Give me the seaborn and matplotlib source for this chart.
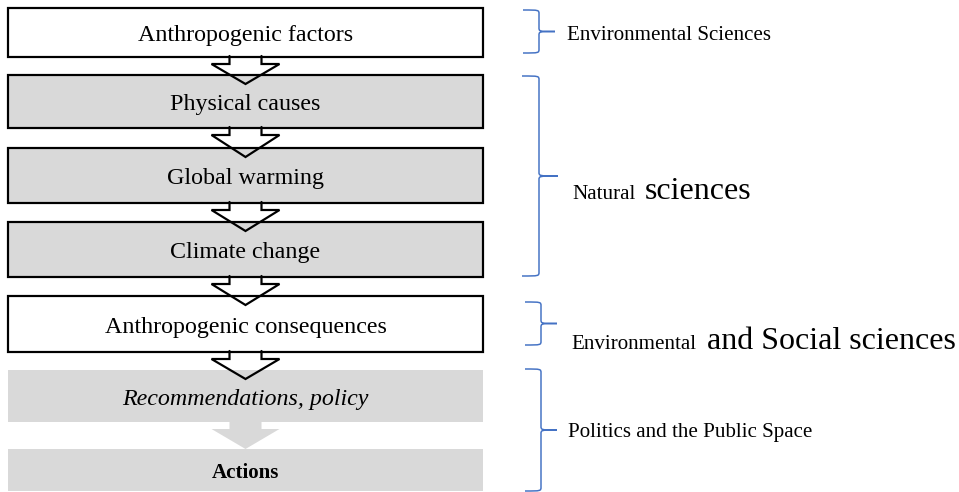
import numpy as np
import matplotlib
matplotlib.use("Agg")
import matplotlib.pyplot as plt
import seaborn as sns
from matplotlib.patches import Rectangle, Polygon, PathPatch
from matplotlib.path import Path

# ==========================================
# Data: flow boxes and discipline brackets
# ==========================================
box_labels = ["Anthropogenic factors", "Physical causes", "Global warming",
              "Climate change", "Anthropogenic consequences",
              "Recommendations, policy", "Actions"]
box_kind = ["white", "grey", "grey", "grey", "white", "soft", "soft"]
box_style = ["normal", "normal", "normal", "normal", "normal", "italic", "bold"]

group_labels = ["Environmental Sciences", "Natural sciences",
                "Environmental and Social sciences", "Politics and the Public Space"]

# layout (pixel coordinates, y downwards)
box_x0, box_x1 = 8, 483
box_top = [8, 75, 148, 222, 296, 370, 449]
box_bot = [57, 128, 203, 277, 352, 422, 491]

brace_top = [10, 76, 302, 369]
brace_bot = [53, 276, 345, 491]
brace_x_end = [523, 522, 525, 525]
brace_x_spine = [539, 539, 541, 541]
brace_x_tip = [555, 558, 557, 557]

GREY = "#d9d9d9"
BLUE = "#4472c4"
W, H = 959, 492
PX = 72 / 100  # px -> pt at dpi 100

sns.set_theme(style="white")
plt.rcParams['font.family'] = ['Liberation Serif', 'DejaVu Serif']
plt.rcParams['text.color'] = 'black'

fig = plt.figure(figsize=(W / 100, H / 100), dpi=100)
ax = fig.add_axes([0, 0, 1, 1])
ax.set_xlim(0, W)
ax.set_ylim(H, 0)
ax.axis('off')

cx = (box_x0 + box_x1) / 2

# --- boxes ---
for lab, kind, style, t, b in zip(box_labels, box_kind, box_style, box_top, box_bot):
    if kind == "soft":
        ax.add_patch(Rectangle((box_x0, t), box_x1 - box_x0, b - t,
                               facecolor=GREY, edgecolor='none', zorder=1))
    else:
        ax.add_patch(Rectangle((box_x0, t), box_x1 - box_x0, b - t,
                               facecolor='white' if kind == "white" else GREY,
                               edgecolor='black', linewidth=2.2 * PX, zorder=1))
    size = 21 if style == "bold" else 24
    ax.text(cx, (t + b) / 2 + size * 0.37, lab, ha='center', va='baseline',
            fontsize=size * PX, fontstyle='italic' if style == "italic" else 'normal',
            fontweight='bold' if style == "bold" else 'normal', color='black', zorder=5)

# --- arrows between boxes ---
shaft, head = 16, 34
for i in range(len(box_labels) - 1):
    top = box_bot[i] - 1
    nxt = box_top[i + 1]
    tip = nxt if box_kind[i] == "soft" else nxt + 9
    hy = top + 8
    pts = [(cx - shaft, top), (cx - shaft, hy), (cx - head, hy), (cx, tip),
           (cx + head, hy), (cx + shaft, hy), (cx + shaft, top)]
    if box_kind[i] == "soft":
        ax.add_patch(Polygon(pts, closed=True, facecolor=GREY, edgecolor='none', zorder=2))
    else:
        xs, ys = zip(*pts)
        ax.plot(xs, ys, color='black', linewidth=2.2 * PX, solid_joinstyle='miter', zorder=3)

# --- braces ---
for t, b, xe, xs_, xt in zip(brace_top, brace_bot, brace_x_end, brace_x_spine, brace_x_tip):
    m = (t + b) / 2
    r = 4
    verts = [(xe, t), (xs_, t), (xs_, t), (xs_, t + r),
             (xs_, m - r),
             (xs_, m), (xs_, m), (xt, m),
             (xs_, m), (xs_, m), (xs_, m + r),
             (xs_, b - r),
             (xs_, b), (xs_, b), (xe, b)]
    codes = [Path.MOVETO, Path.CURVE4, Path.CURVE4, Path.CURVE4,
             Path.LINETO,
             Path.CURVE4, Path.CURVE4, Path.CURVE4,
             Path.CURVE4, Path.CURVE4, Path.CURVE4,
             Path.LINETO,
             Path.CURVE4, Path.CURVE4, Path.CURVE4]
    ax.add_patch(PathPatch(Path(verts, codes), facecolor='none', edgecolor=BLUE,
                           linewidth=1.5 * PX, zorder=3))

# --- bracket labels (mixed sizes as in original) ---
small, big = 21 * PX, 32 * PX
ax.text(567, 40, group_labels[0], fontsize=small, va='baseline', ha='left', color='black')
ax.text(572, 199, group_labels[1].split(" ")[0], fontsize=small, va='baseline', ha='left', color='black')
ax.text(645, 199, group_labels[1].split(" ", 1)[1], fontsize=big, va='baseline', ha='left', color='black')
ax.text(571, 349, group_labels[2].split(" ")[0], fontsize=small, va='baseline', ha='left', color='black')
ax.text(707, 349, group_labels[2].split(" ", 1)[1], fontsize=big, va='baseline', ha='left', color='black')
ax.text(568, 437, group_labels[3], fontsize=small, va='baseline', ha='left', color='black')

plt.savefig('out.png', dpi=100)
